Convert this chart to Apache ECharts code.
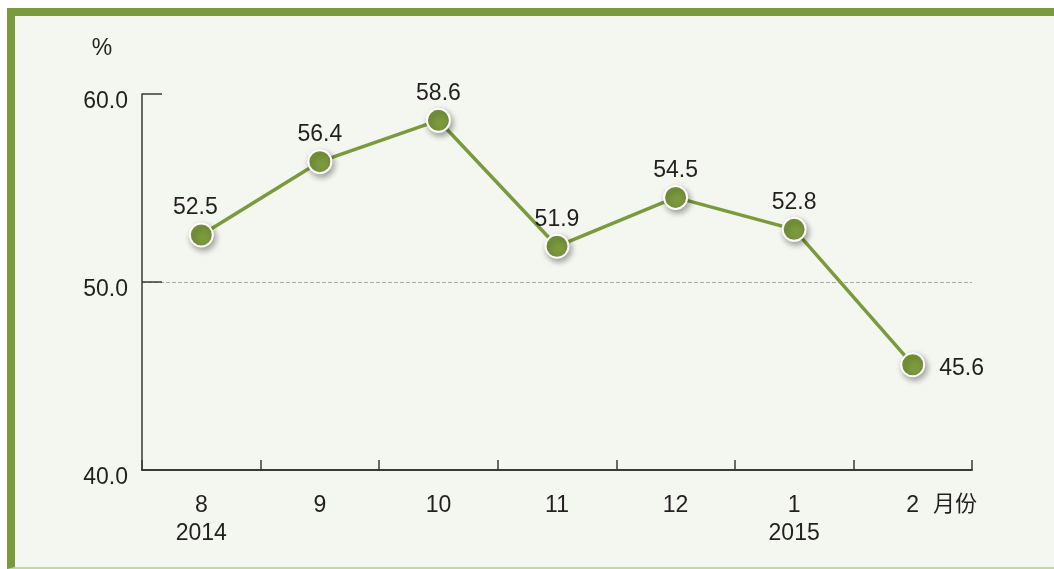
<!DOCTYPE html>
<html>
<head>
<meta charset="utf-8">
<script src="https://cdn.jsdelivr.net/npm/echarts@6/dist/echarts.min.js"></script>
<style>
  html, body { margin: 0; padding: 0; background: #ffffff; }
  #frame {
    position: absolute; left: 7px; top: 8px; width: 1039px; height: 551px;
    background: #f4f7f0;
    border-top: 8px solid #7b993d;
    border-left: 8px solid #7b993d;
    border-bottom: 2px solid #c3d6a6;
  }
  #chart { position: absolute; left: 0; top: 0; width: 1054px; height: 569px; }
</style>
</head>
<body>
<div id="frame"></div>
<div id="chart"></div>
<script>
const categories = ['8\n2014', '9', '10', '11', '12', '1\n2015', '2'];
const values = [52.5, 56.4, 58.6, 51.9, 54.5, 52.8, 45.6];
const yTicks = { min: 40, max: 60, interval: 10 };
const yUnit = '%';
const xUnit = '月份';

const green = '#7b993d';
const textColor = '#231f20';
const fontFamily = 'Liberation Sans, Arial, sans-serif';
const fs = 23;

const chart = echarts.init(document.getElementById('chart'), null, { renderer: 'canvas' });

const seriesData = values.map((v, i) => {
  const item = { value: v };
  if (i === values.length - 1) {
    item.label = { position: 'right', distance: 14, offset: [0, 4] };
  } else if (i === 0) {
    item.label = { offset: [-6, 0] };
  }
  return item;
});

chart.setOption({
  backgroundColor: 'transparent',
  animation: false,
  grid: { left: 142, right: 82, top: 94, bottom: 99 },
  xAxis: {
    type: 'category',
    data: categories,
    boundaryGap: true,
    name: xUnit,
    nameLocation: 'end',
    nameGap: -39,
    nameTextStyle: {
      color: textColor, fontSize: 22,
      fontFamily: 'Noto Sans CJK SC, sans-serif',
      align: 'left', verticalAlign: 'top',
      lineHeight: 66
    },
    axisLine: { lineStyle: { color: '#3a3a3a', width: 2 } },
    axisTick: { show: true, inside: true, length: 10, interval: 0, lineStyle: { color: '#3a3a3a', width: 1.5 } },
    axisLabel: {
      color: textColor, fontSize: fs, fontFamily: fontFamily,
      margin: 22, lineHeight: 28, interval: 0
    },
    splitLine: { show: false }
  },
  yAxis: {
    type: 'value',
    min: yTicks.min, max: yTicks.max, interval: yTicks.interval,
    name: yUnit,
    nameLocation: 'end',
    nameGap: 45,
    nameTextStyle: {
      color: textColor, fontSize: fs, fontFamily: fontFamily,
      align: 'center', verticalAlign: 'middle',
      padding: [0, 80, 0, 0]
    },
    axisLine: { show: true, lineStyle: { color: '#3a3a3a', width: 1.5 } },
    axisTick: { show: true, inside: true, length: 20, lineStyle: { color: '#3a3a3a', width: 1.5 } },
    axisLabel: {
      color: textColor, fontSize: fs, fontFamily: fontFamily,
      margin: 14, verticalAlign: 'top', lineHeight: 15,
      formatter: v => v.toFixed(1)
    },
    splitLine: {
      show: true,
      lineStyle: { color: ['transparent', '#a8a8a8', 'transparent'], type: [4, 2], width: 1 }
    }
  },
  series: [{
    type: 'line',
    data: seriesData,
    symbol: 'circle',
    symbolSize: 23,
    z: 5,
    lineStyle: { color: green, width: 3.5 },
    itemStyle: {
      color: green, borderColor: '#ffffff', borderWidth: 2,
      shadowBlur: 6, shadowColor: 'rgba(0,0,0,0.35)', shadowOffsetX: 2, shadowOffsetY: 3
    },
    label: {
      show: true, position: 'top', distance: 3,
      color: textColor, fontSize: fs, fontFamily: fontFamily,
      formatter: p => p.value.toFixed(1)
    }
  }]
});
</script>
</body>
</html>
